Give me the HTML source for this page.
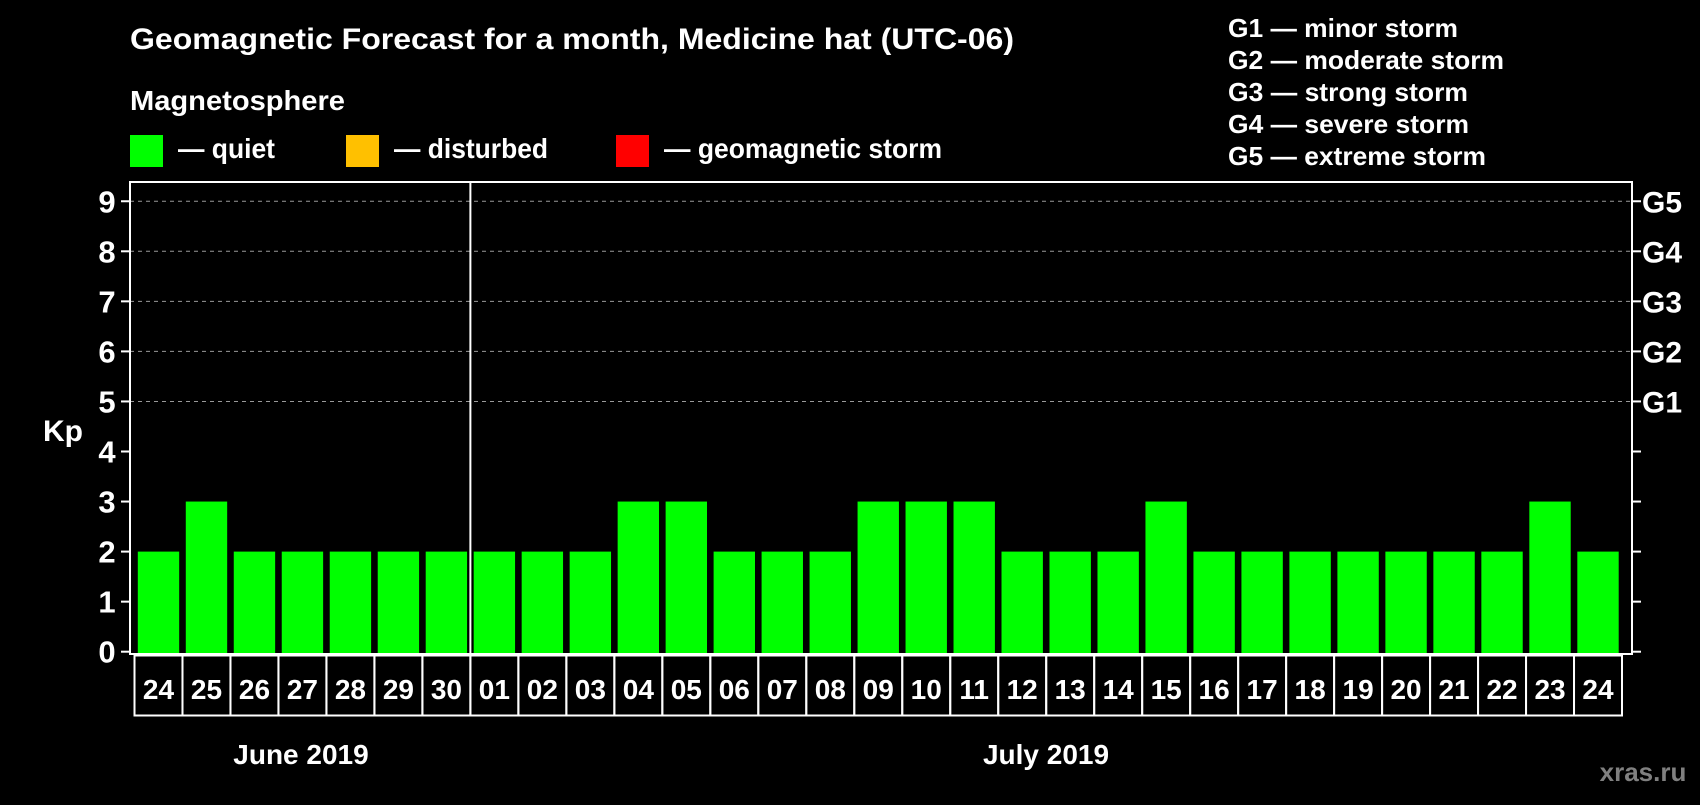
<!DOCTYPE html>
<html><head><meta charset="utf-8"><style>
html,body{margin:0;padding:0;background:#000;}
svg text{font-family:"Liberation Sans",Arial,sans-serif;font-weight:bold;fill:#fff;}
</style></head><body>
<svg id="chart" width="1700" height="800" viewBox="0 0 1700 800" xmlns="http://www.w3.org/2000/svg">
<rect width="1700" height="800" fill="#000"/>
<text x="130" y="49" font-size="30" textLength="884" lengthAdjust="spacingAndGlyphs">Geomagnetic Forecast for a month, Medicine hat (UTC-06)</text>
<text x="130" y="110" font-size="28" textLength="215" lengthAdjust="spacingAndGlyphs">Magnetosphere</text>
<rect x="130" y="135" width="33" height="32" fill="#00ff00"/>
<text x="178" y="158" font-size="28" textLength="97" lengthAdjust="spacingAndGlyphs">— quiet</text>
<rect x="346" y="135" width="33" height="32" fill="#ffc000"/>
<text x="394" y="158" font-size="28" textLength="154" lengthAdjust="spacingAndGlyphs">— disturbed</text>
<rect x="616" y="135" width="33" height="32" fill="#ff0000"/>
<text x="664" y="158" font-size="28" textLength="278" lengthAdjust="spacingAndGlyphs">— geomagnetic storm</text>
<g font-size="26">
<text x="1228" y="37" textLength="230" lengthAdjust="spacingAndGlyphs">G1 — minor storm</text>
<text x="1228" y="69" textLength="276" lengthAdjust="spacingAndGlyphs">G2 — moderate storm</text>
<text x="1228" y="101" textLength="240" lengthAdjust="spacingAndGlyphs">G3 — strong storm</text>
<text x="1228" y="133" textLength="241" lengthAdjust="spacingAndGlyphs">G4 — severe storm</text>
<text x="1228" y="165" textLength="258" lengthAdjust="spacingAndGlyphs">G5 — extreme storm</text>
</g>
<text x="63" y="441" font-size="30" text-anchor="middle">Kp</text>
<g id="plot"></g>
<text x="301" y="764" font-size="28" text-anchor="middle">June 2019</text>
<text x="1046" y="764" font-size="28" text-anchor="middle">July 2019</text>
<text x="1643" y="781" font-size="26" text-anchor="middle" style="fill:#808080">xras.ru</text>
</svg>
<script>
const days = ["24","25","26","27","28","29","30","01","02","03","04","05","06","07","08","09","10","11","12","13","14","15","16","17","18","19","20","21","22","23","24"];
const kp = [2,3,2,2,2,2,2,2,2,2,3,3,2,2,2,3,3,3,2,2,2,3,2,2,2,2,2,2,2,3,2];
const yTicks = [0,1,2,3,4,5,6,7,8,9];
const gLabels = ["G1","G2","G3","G4","G5"];
const gLevels = [5,6,7,8,9];

const NS = "http://www.w3.org/2000/svg";
const g = document.getElementById('plot');
const slot0 = 134.5, slotW = (1622 - 134.5) / days.length;
const y0 = 651.7, unit = 50.05;
const plotL = 130, plotR = 1632, plotT = 182, plotB = 654;
function yS(v){ return y0 - v * unit; }
function xS(i){ return slot0 + i * slotW; }
function mk(tag, attrs){ const e = document.createElementNS(NS, tag); for (const k in attrs) e.setAttribute(k, attrs[k]); g.appendChild(e); return e; }

gLevels.forEach((lv, i) => {
  const l = mk('line', {x1: plotL, x2: plotR, y1: yS(lv), y2: yS(lv), stroke: '#999', 'stroke-width': 1, 'stroke-dasharray': '4,4'});
  
  
  const t = mk('text', {x: 1642, y: yS(lv) + 11, 'font-size': 30});
  t.textContent = gLabels[i];
  
  
});

kp.forEach((v, i) => {
  const r = mk('rect', {x: xS(i) + 3.3, y: yS(v), width: slotW - 6.6, height: y0 - yS(v) + 1.5, fill: '#00ff00'});
  
  
  const b = mk('rect', {x: xS(i), y: plotB + 1.5, width: slotW, height: 60, fill: 'none', stroke: '#fff', 'stroke-width': 2});
  
  
  const t = mk('text', {x: xS(i) + slotW / 2, y: plotB + 45, 'font-size': 28, 'text-anchor': 'middle'});
  t.textContent = days[i];
  
  
});

yTicks.forEach(v => {
  const a = mk('line', {x1: 121, x2: plotL, y1: yS(v), y2: yS(v), stroke: '#fff', 'stroke-width': 2});
  
  
  const b = mk('line', {x1: plotR, x2: 1641, y1: yS(v), y2: yS(v), stroke: '#fff', 'stroke-width': 2});
  
  
  const t = mk('text', {x: 107, y: yS(v) + 11, 'font-size': 31, 'text-anchor': 'middle'});
  t.textContent = v;
  
  
});

const frame = mk('rect', {x: plotL, y: plotT, width: plotR - plotL, height: plotB - plotT, fill: 'none', stroke: '#fff', 'stroke-width': 2});


const div = mk('line', {x1: xS(7), x2: xS(7), y1: plotT, y2: plotB, stroke: '#fff', 'stroke-width': 2});


</script>
</body></html>
